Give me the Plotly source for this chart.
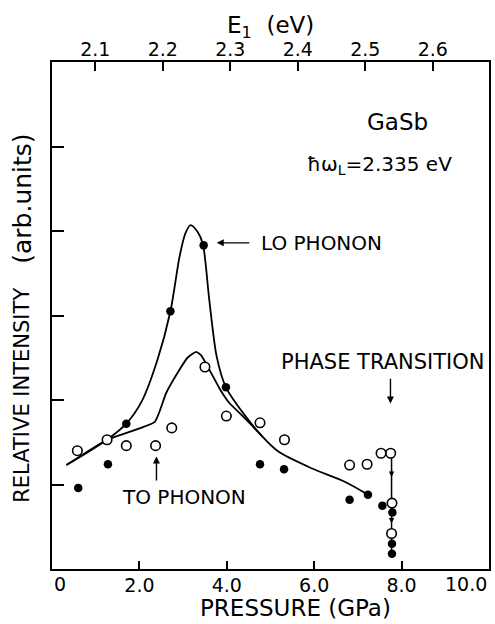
import plotly.graph_objects as go

# ---- data ----
lo_p = [0.60, 1.28, 1.70, 2.71, 3.47, 3.98, 4.76, 5.31, 6.81, 7.23, 7.56, 7.79, 7.78, 7.78]
lo_i = [0.96, 1.24, 1.72, 3.05, 3.83, 2.15, 1.24, 1.18, 0.82, 0.88, 0.75, 0.67, 0.30, 0.18]

to_p = [0.58, 1.26, 1.70, 2.37, 2.74, 3.50, 3.99, 4.76, 5.32, 6.81, 7.21, 7.53, 7.75, 7.78, 7.77]
to_i = [1.40, 1.53, 1.46, 1.46, 1.67, 2.39, 1.81, 1.73, 1.53, 1.23, 1.24, 1.37, 1.37, 0.78, 0.42]

lo_curve_p = [0.33, 1.26, 1.70, 2.05, 2.41, 2.71, 2.92, 3.05, 3.17, 3.33, 3.45, 3.60, 3.77, 3.98, 4.44, 4.81, 5.18, 5.95, 6.71, 7.23]
lo_curve_i = [1.23, 1.53, 1.72, 1.98, 2.47, 3.05, 3.70, 3.97, 4.07, 3.99, 3.85, 3.18, 2.51, 2.15, 1.80, 1.57, 1.39, 1.19, 1.03, 0.88]

to_curve_p = [0.33, 1.26, 2.35, 2.61, 2.92, 3.10, 3.30, 3.41, 3.60, 3.83, 4.05, 4.44, 4.81]
to_curve_i = [1.23, 1.53, 1.74, 2.08, 2.36, 2.50, 2.57, 2.53, 2.36, 2.14, 1.97, 1.77, 1.57]

transition_p = [7.77, 7.77]
transition_i = [1.37, 0.18]

x_ticks = [0, 2, 4, 6, 8, 10]
x_ticktext = ["", "2.0", "4.0", "6.0", "8.0", ""]
e_ticks = [2.1, 2.2, 2.3, 2.4, 2.5, 2.6]
e_ticktext = ["2.1", "2.2", "2.3", "2.4", "2.5", "2.6"]
y_ticks = [1, 2, 3, 4, 5]

FONT = "DejaVu Sans"
BLACK = "black"

fig = go.Figure()

fig.add_trace(go.Scatter(x=lo_curve_p, y=lo_curve_i, mode="lines",
                         line=dict(color=BLACK, width=1.8, shape="spline", smoothing=0.8),
                         showlegend=False, hoverinfo="skip"))
fig.add_trace(go.Scatter(x=to_curve_p, y=to_curve_i, mode="lines",
                         line=dict(color=BLACK, width=1.8, shape="spline", smoothing=0.45),
                         showlegend=False, hoverinfo="skip"))
fig.add_trace(go.Scatter(x=transition_p, y=transition_i, mode="lines",
                         line=dict(color=BLACK, width=1.5),
                         showlegend=False, hoverinfo="skip"))
fig.add_trace(go.Scatter(x=lo_p, y=lo_i, mode="markers",
                         marker=dict(symbol="circle", size=8.5, color=BLACK),
                         showlegend=False))
fig.add_trace(go.Scatter(x=to_p, y=to_i, mode="markers",
                         marker=dict(symbol="circle", size=9.5, color="white",
                                     line=dict(color=BLACK, width=1.6)),
                         showlegend=False))
# dummy trace for top axis
fig.add_trace(go.Scatter(x=[e_ticks[0]], y=[None], xaxis="x2", mode="markers",
                         showlegend=False, hoverinfo="skip"))

fig.update_layout(
    width=495, height=624,
    margin=dict(l=52, r=4, t=62, b=55),
    paper_bgcolor="white", plot_bgcolor="white",
    font=dict(family=FONT, color=BLACK),
    xaxis=dict(range=[0, 10], tickmode="array", tickvals=x_ticks, ticktext=x_ticktext,
               ticks="inside", ticklen=8, tickwidth=1.8, tickcolor=BLACK,
               ticklabelstandoff=-2,
               showline=True, linecolor=BLACK, linewidth=2, mirror=True,
               showgrid=False, zeroline=False, tickfont=dict(size=19, family=FONT)),
    xaxis2=dict(range=[2.0358, 2.6833], overlaying="x", side="top",
                tickmode="array", tickvals=e_ticks, ticktext=e_ticktext,
                ticks="inside", ticklen=9, tickwidth=1.8, tickcolor=BLACK,
                ticklabelstandoff=-4,
                showline=True, linecolor=BLACK, linewidth=2,
                showgrid=False, zeroline=False, tickfont=dict(size=19, family=FONT)),
    yaxis=dict(range=[0, 6], tickmode="array", tickvals=y_ticks, showticklabels=False,
               ticks="inside", ticklen=12, tickwidth=1.8, tickcolor=BLACK,
               showline=True, linecolor=BLACK, linewidth=2, mirror=True,
               showgrid=False, zeroline=False),
)

ann = []
# bottom end tick labels
ann.append(dict(x=0, y=0, xref="x", yref="y", text="0", showarrow=False,
                xanchor="left", yanchor="top", yshift=-2, font=dict(size=19)))
ann.append(dict(x=10, y=0, xref="x", yref="y", text="10.0", showarrow=False,
                xanchor="right", yanchor="top", yshift=-2, font=dict(size=19)))
# axis titles
ann.append(dict(x=(297 - 52) / 439, y=(569 - 608) / 507, xref="paper", yref="paper",
                text="PRESSURE (GPa)",
                showarrow=False, font=dict(size=23), xanchor="center", yanchor="middle"))
ann.append(dict(x=-0.068, y=(569 - 395.5) / 507, xref="paper", yref="paper",
                text="RELATIVE INTENSITY", textangle=-90,
                showarrow=False, font=dict(size=21), xanchor="center", yanchor="middle"))
ann.append(dict(x=-0.068, y=(569 - 198.5) / 507, xref="paper", yref="paper",
                text="(arb.units)", textangle=-90,
                showarrow=False, font=dict(size=25), xanchor="center", yanchor="middle"))
ann.append(dict(x=0.501, y=1.07, xref="paper", yref="paper", text="E<sub>1</sub>  (eV)",
                showarrow=False, font=dict(size=23), xanchor="center", yanchor="middle"))
# labels
ann.append(dict(x=7.90, y=5.29, xref="x", yref="y", text="GaSb", showarrow=False,
                font=dict(size=23), xanchor="center", yanchor="middle"))
ann.append(dict(x=9.11, y=4.78, xref="x", yref="y", text="ħω<sub>L</sub>=2.335 eV",
                showarrow=False, font=dict(size=20), xanchor="right", yanchor="middle",
                xshift=4))
ann.append(dict(x=4.74, y=3.86, xref="x", yref="y", text="LO PHONON", showarrow=False,
                font=dict(size=20), xanchor="left", yanchor="middle"))
ann.append(dict(x=3.77, y=3.86, ax=4.55, ay=3.86, xref="x", yref="y", axref="x", ayref="y",
                text="", showarrow=True, arrowhead=2, arrowsize=1, arrowwidth=1.4,
                arrowcolor=BLACK))
ann.append(dict(x=3.03, y=0.85, xref="x", yref="y", text="TO PHONON", showarrow=False,
                font=dict(size=20), xanchor="center", yanchor="middle"))
ann.append(dict(x=2.39, y=1.33, ax=2.39, ay=1.03, xref="x", yref="y", axref="x", ayref="y",
                text="", showarrow=True, arrowhead=2, arrowsize=1, arrowwidth=1.4,
                arrowcolor=BLACK))
ann.append(dict(x=7.585, y=2.45, xref="x", yref="y", text="PHASE TRANSITION", showarrow=False,
                font=dict(size=21), xanchor="center", yanchor="middle"))
ann.append(dict(x=7.745, y=1.96, ax=7.745, ay=2.27, xref="x", yref="y", axref="x", ayref="y",
                text="", showarrow=True, arrowhead=2, arrowsize=1, arrowwidth=1.4,
                arrowcolor=BLACK))
# small arrowheads on the transition line
for yy in [1.09, 0.54]:
    ann.append(dict(x=7.77, y=yy, ax=0, ay=-9, xref="x", yref="y",
                    text="", showarrow=True, arrowhead=2, arrowsize=0.9, arrowwidth=1.2,
                    arrowcolor=BLACK))

fig.update_layout(annotations=ann)
fig.write_html("out.html", config={"displayModeBar": False},
               post_script="document.body.style.margin='0px';document.body.style.overflow='hidden';")
